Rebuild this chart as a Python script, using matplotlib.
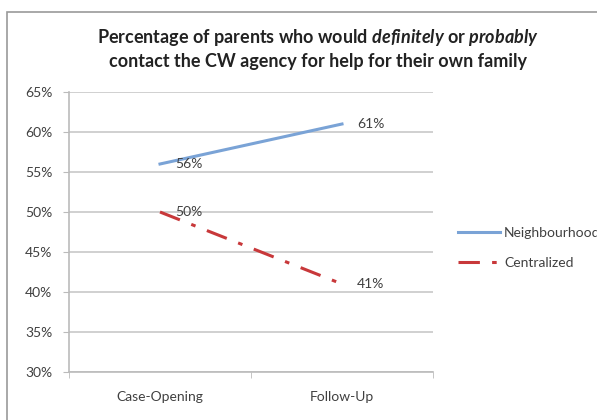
import matplotlib.pyplot as plt
from matplotlib.patches import Rectangle
from matplotlib.ticker import PercentFormatter

categories = ['Case-Opening', 'Follow-Up']
neighbourhood = [56, 61]
centralized = [50, 41]
y_ticks = [30, 35, 40, 45, 50, 55, 60, 65]

plt.rcParams['font.family'] = ['Lato', 'DejaVu Sans']
plt.rcParams['mathtext.fontset'] = 'custom'
plt.rcParams['mathtext.it'] = 'Lato:italic:bold'
plt.rcParams['mathtext.rm'] = 'Lato:bold'

fig = plt.figure(figsize=(5.97, 4.2), dpi=100)
ax = fig.add_axes([69 / 597, 1 - 372 / 420, 364 / 597, 280 / 420])

# chart frame
fig.patches.append(Rectangle((7 / 597, -0.1), 1.2, 1.1 - 12 / 420, transform=fig.transFigure,
                             fill=False, edgecolor='#9a9a9a', linewidth=1.2))

x = [0, 1]
ax.plot(x, neighbourhood, color='#7aa3d6', linewidth=2.2, label='Neighbourhood')
ax.plot(x, centralized, color='#c8383a', linewidth=2.2, dashes=(7, 4, 1.5, 4), label='Centralized')

for xi, v in zip(x, neighbourhood):
    ax.annotate(f'{v}%', (xi, v), xytext=(11, 0), textcoords='offset points',
                ha='left', va='center', fontsize=10, color='#404040')
for xi, v in zip(x, centralized):
    ax.annotate(f'{v}%', (xi, v), xytext=(11, 0), textcoords='offset points',
                ha='left', va='center', fontsize=10, color='#404040')

ax.set_xlim(-0.5, 1.5)
ax.set_ylim(30, 65)
ax.set_yticks(y_ticks)
ax.yaxis.set_major_formatter(PercentFormatter(decimals=0))
ax.set_xticks(x)
ax.set_xticklabels(categories)
ax.set_xticks([-0.5, 0.5, 1.5], minor=True)
ax.tick_params(axis='x', which='major', length=0, pad=14, labelsize=10, labelcolor='#404040')
ax.tick_params(axis='x', which='minor', length=4, color='#bbbbbb', direction='out')
ax.tick_params(axis='y', length=4, color='#bbbbbb', labelsize=10, labelcolor='#404040', pad=8)
ax.grid(axis='y', color='#c8c8c8', linewidth=1.2)
ax.set_axisbelow(True)
for side in ['top', 'right']:
    ax.spines[side].set_visible(False)
for side in ['left', 'bottom']:
    ax.spines[side].set_color('#bbbbbb')
    ax.spines[side].set_linewidth(1.2)

fig.text(0.532, 1 - 38 / 420, 'Percentage of parents who would $\\it{definitely}$ or $\\it{probably}$',
         ha='center', va='center', fontsize=13, fontweight='bold', color='#222222')
fig.text(0.532, 1 - 62 / 420, 'contact the CW agency for help for their own family',
         ha='center', va='center', fontsize=13, fontweight='bold', color='#222222')

# legend sits partly past the right edge of the figure
ax.legend(loc='center left', bbox_to_anchor=(1.035, 0.443), frameon=False, fontsize=10,
          handlelength=3.0, handletextpad=0.3, labelspacing=1.25, labelcolor='#404040')

plt.savefig('out.png', dpi=100)
